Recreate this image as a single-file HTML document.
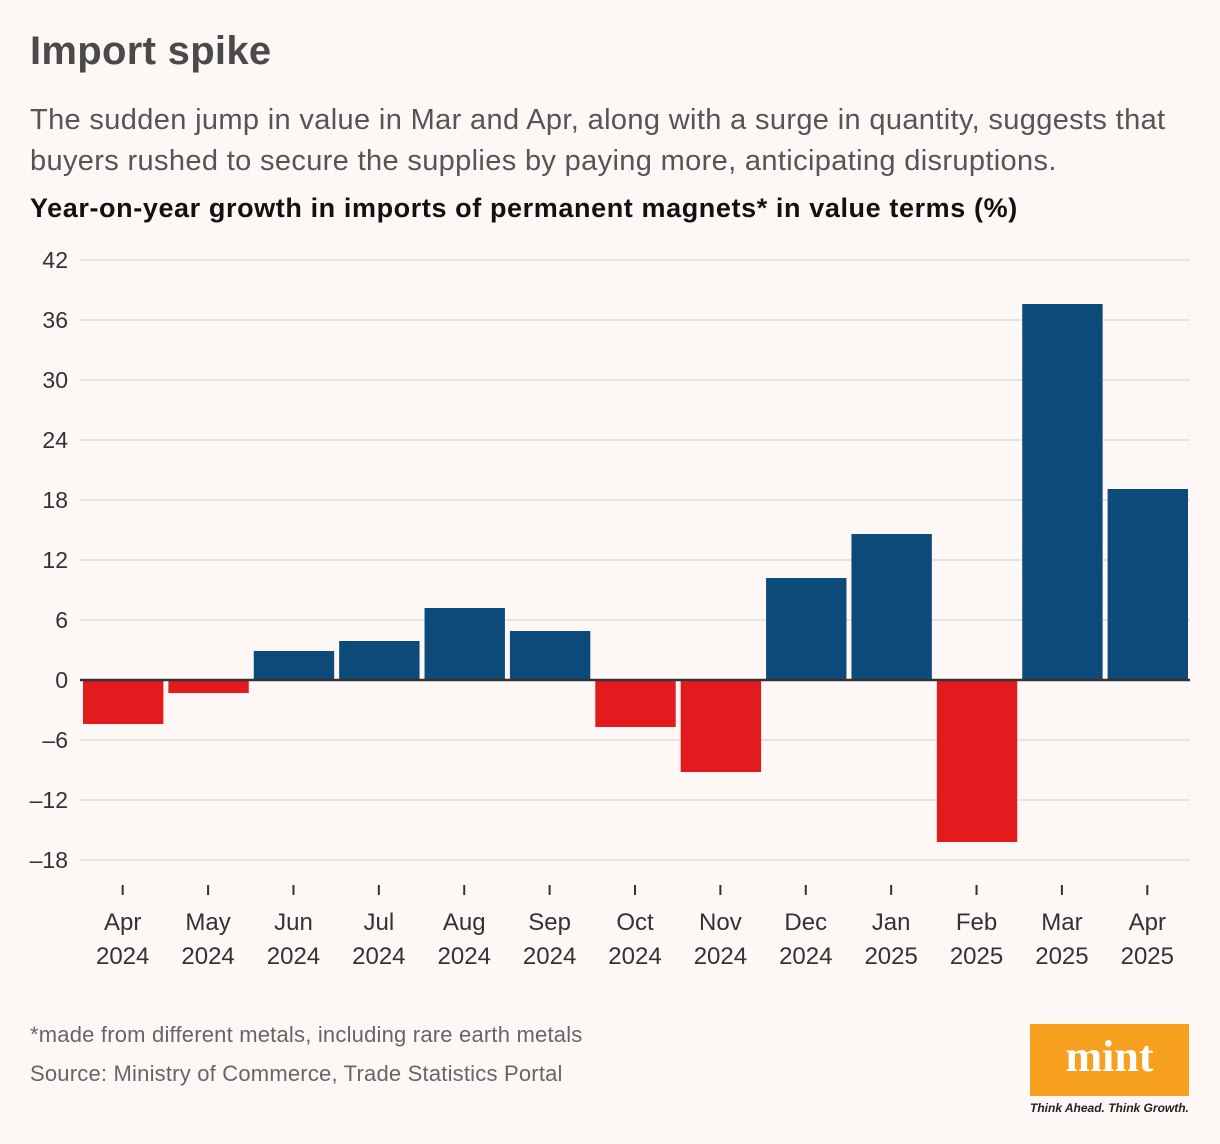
<!DOCTYPE html>
<html><head><meta charset="utf-8"><style>
body{margin:0;background:#fdf7f5;font-family:"Liberation Sans",sans-serif;}
#wrap{position:relative;width:1220px;height:1144px;overflow:hidden;}
.t{position:absolute;left:30px;margin:0;}
</style></head><body><div id="wrap">
<h1 class="t" style="top:29px;font-size:40px;color:#4a4a4a;font-weight:bold;letter-spacing:0.3px">Import spike</h1>
<p class="t" style="top:100px;font-size:29px;line-height:41px;color:#555;width:1190px;letter-spacing:0.35px">The sudden jump in value in Mar and Apr, along with a surge in quantity, suggests that buyers rushed to secure the supplies by paying more, anticipating disruptions.</p>
<p class="t" style="top:193px;font-size:27px;font-weight:bold;color:#111;letter-spacing:0.6px">Year-on-year growth in imports of permanent magnets* in value terms (%)</p>
<svg id="chart" width="1220" height="1000" style="position:absolute;left:0;top:0"></svg>
<p class="t" style="top:1022px;font-size:22px;color:#666;letter-spacing:0.2px">*made from different metals, including rare earth metals</p>
<p class="t" style="top:1061px;font-size:22px;color:#666;letter-spacing:0.2px">Source: Ministry of Commerce, Trade Statistics Portal</p>
<div style="position:absolute;left:1030px;top:1024px;width:159px;height:72px;background:#f7a01f;color:#fff;font-family:'Liberation Serif',serif;font-weight:bold;font-size:44px;text-align:center;line-height:66px">mint</div>
<div style="position:absolute;left:1030px;top:1101px;font-size:12px;font-style:italic;color:#222;font-weight:bold">Think Ahead. Think Growth.</div>
</div>
<script>
const months=["Apr","May","Jun","Jul","Aug","Sep","Oct","Nov","Dec","Jan","Feb","Mar","Apr"];
const years=["2024","2024","2024","2024","2024","2024","2024","2024","2024","2025","2025","2025","2025"];
const values=[-4.4,-1.3,2.9,3.9,7.2,4.9,-4.7,-9.2,10.2,14.6,-16.2,37.6,19.1];
const yTicks=[42,36,30,24,18,12,6,0,-6,-12,-18];
const svg=document.getElementById('chart');const NS='http://www.w3.org/2000/svg';
const x0=80,x1=1190,band=(x1-x0)/months.length;
const y=v=>680-(v)*10;
function mk(t,a){const e=document.createElementNS(NS,t);for(const k in a)e.setAttribute(k,a[k]);svg.appendChild(e);return e;}
yTicks.forEach(v=>{
const l=mk('line',{x1:x0,x2:x1,y1:y(v),y2:y(v),stroke:'#ddd','stroke-width':1.5});


const t=mk('text',{x:68,y:y(v)+8,'text-anchor':'end','font-size':23,fill:'#333'});
t.textContent=v<0?'\u2013'+(-v):v;


});
values.forEach((v,i)=>{
const bx=x0+i*band+3;
const r=mk('rect',{x:bx,y:Math.min(y(v),y(0)),width:band-5,height:Math.abs(y(v)-y(0)),fill:v>=0?'#0c4a7a':'#e31b1e'});


const cx=x0+(i+0.5)*band;
const tk=mk('line',{x1:cx,x2:cx,y1:885,y2:895,stroke:'#333','stroke-width':2});


const t1=mk('text',{x:cx,y:930,'text-anchor':'middle','font-size':24,fill:'#333'});
t1.textContent=months[i];


const t2=mk('text',{x:cx,y:964,'text-anchor':'middle','font-size':24,fill:'#333'});
t2.textContent=years[i];


});
const z=mk('line',{x1:x0,x2:x1,y1:y(0),y2:y(0),stroke:'#333','stroke-width':2.5});


</script></body></html>
